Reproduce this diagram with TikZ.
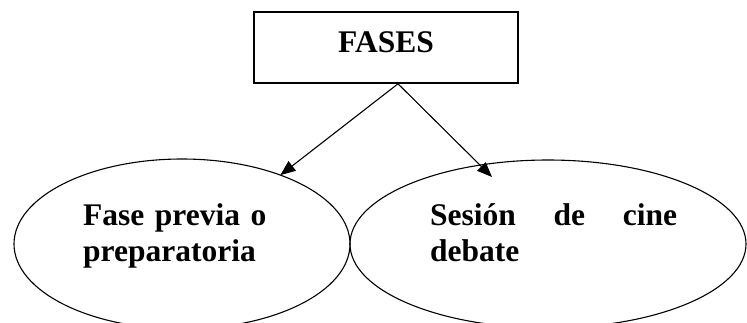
\documentclass[tikz,border=0pt]{standalone}
\usepackage{fontspec}
\setmainfont{Liberation Serif}
\usetikzlibrary{positioning,shapes,arrows.meta}

\begin{document}
\begin{tikzpicture}[x=1pt, y=-1pt,
	fase/.style={draw, line width=1.1pt, shape=ellipse, inner sep=0pt, outer sep=0pt},
	rotulo/.style={anchor=base west, inner sep=0pt, align=left, font=\fontsize{31.5}{36}\selectfont\bfseries},
	flecha/.style={line width=1.1pt, -{Triangle[length=15pt,width=12pt]}}]
	\useasboundingbox (0,0) rectangle (747,322);
	\clip (0,0) rectangle (747,322);
	\node[draw, line width=1.6pt, minimum width=264pt, minimum height=71pt, text height=20.8pt, text depth=11.8pt, inner sep=0pt, font=\fontsize{31.5}{36}\selectfont\bfseries] (fases) at (386,47.5) {FASES};
	\node[fase, style={minimum width=336pt, minimum height=170pt}] (previa) at (182,244) {};
	\node[fase, style={minimum width=396pt, minimum height=168pt}] (sesion) [right=0pt of previa] {};
	\node[rotulo, text width=185pt] (previa text) at (83,225) {Fase previa o\\preparatoria};
	\node[rotulo, text width=247pt] (sesion text) at (430,225) {Sesión\hfill de\hfill cine\\debate};
	\coordinate (fork) at ([xshift=12pt]fases.south);
	\coordinate (tip b) at (492,177);
	\draw[flecha] (fork) -- (previa.35);
	\draw[flecha] (fork) -- (tip b);
\end{tikzpicture}
\end{document}
